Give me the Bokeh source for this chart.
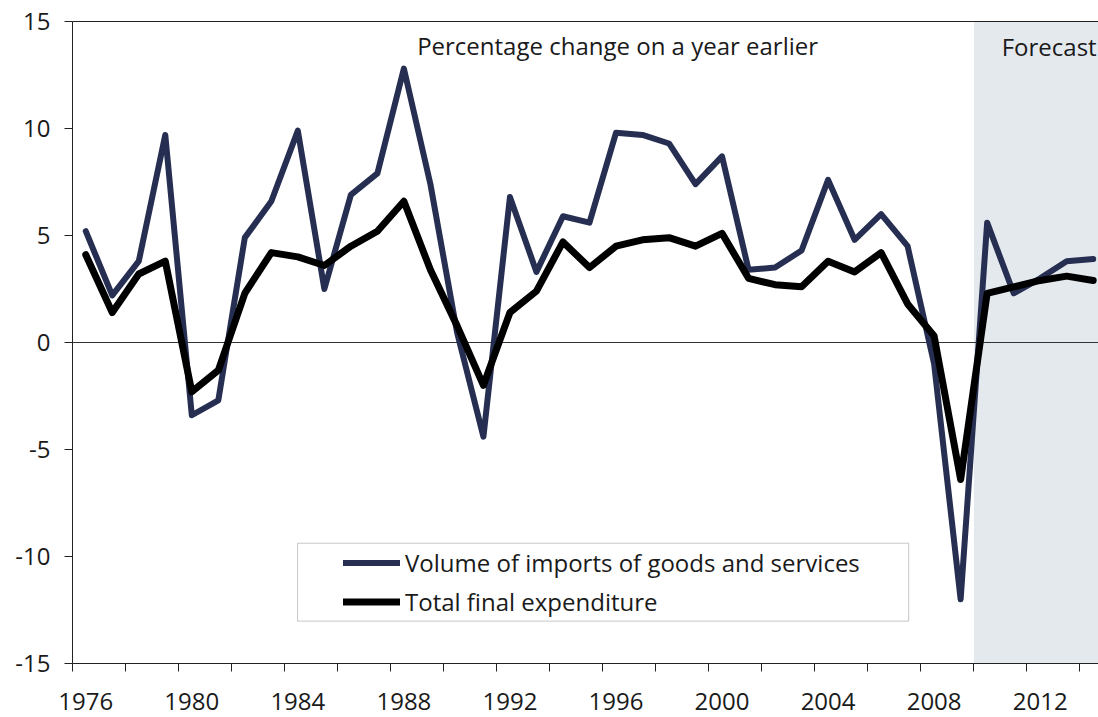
from bokeh.plotting import figure
from bokeh.models import (Range1d, FixedTicker, LinearAxis, Span, BoxAnnotation,
                          Label, Legend, LegendItem)
from bokeh.embed import file_html
from bokeh.resources import INLINE

years = list(range(1976, 2015))
imports = [5.2, 2.2, 3.8, 9.7, -3.4, -2.7, 4.9, 6.6, 9.9, 2.5,
           6.9, 7.9, 12.8, 7.4, 0.5, -4.4, 6.8, 3.3, 5.9, 5.6,
           9.8, 9.7, 9.3, 7.4, 8.7, 3.4, 3.5, 4.3, 7.6, 4.8,
           6.0, 4.5, -1.0, -12.0, 5.6, 2.3, 3.0, 3.8, 3.9]
tfe = [4.1, 1.4, 3.2, 3.8, -2.3, -1.3, 2.3, 4.2, 4.0, 3.6,
       4.5, 5.2, 6.6, 3.4, 0.8, -2.0, 1.4, 2.4, 4.7, 3.5,
       4.5, 4.8, 4.9, 4.5, 5.1, 3.0, 2.7, 2.6, 3.8, 3.3,
       4.2, 1.8, 0.3, -6.4, 2.3, 2.6, 2.9, 3.1, 2.9]
x_tick_years = [1976, 1980, 1984, 1988, 1992, 1996, 2000, 2004, 2008, 2012]
y_ticks = [-15, -10, -5, 0, 5, 10, 15]
y_tick_labels = ["-15", "-10", "-5", "0", "5", "10", "15"]
forecast_start = 2010
series_names = ["Volume of imports of goods and services", "Total final expenditure"]
title_text = "Percentage change on a year earlier"
forecast_text = "Forecast"

NAVY = "#262f52"
TXT = "#1a1a1a"
FONT = "Open Sans"
FS = "24px"

p = figure(width=1098, height=717, output_backend="svg", toolbar_location=None,
           x_range=Range1d(1975.5, 2014.2), y_range=Range1d(-15, 15),
           min_border_left=72, min_border_right=0, min_border_top=21, min_border_bottom=54,
           background_fill_color="white", border_fill_color="white")
p.outline_line_color = None
p.grid.visible = False

# x axis: labels at category centres, tick marks at category boundaries every 2 years
minor = [x_tick_years[0] - 0.5 + 2 * k for k in range(20)]
p.xaxis.ticker = FixedTicker(ticks=x_tick_years, minor_ticks=minor)
p.xaxis.major_tick_out = 0
p.xaxis.major_tick_in = 0
p.xaxis.minor_tick_out = 8
p.xaxis.minor_tick_in = 0
p.xaxis.major_label_standoff = 21
p.xaxis.major_label_text_font = FONT
p.xaxis.major_label_text_font_size = FS
p.xaxis.major_label_text_color = TXT
p.xaxis.axis_line_color = "#222222"
p.xaxis.minor_tick_line_color = "#222222"

p.yaxis.ticker = FixedTicker(ticks=y_ticks)
p.yaxis.major_label_overrides = dict(zip(y_ticks, y_tick_labels))
p.yaxis.major_tick_out = 8
p.yaxis.major_tick_in = 0
p.yaxis.minor_tick_out = 0
p.yaxis.minor_tick_in = 0
p.yaxis.major_label_standoff = 14
p.yaxis.major_label_text_font = FONT
p.yaxis.major_label_text_font_size = FS
p.yaxis.major_label_text_color = TXT
p.yaxis.axis_line_color = "#222222"
p.yaxis.major_tick_line_color = "#222222"

top = LinearAxis(ticker=FixedTicker(ticks=[]), major_tick_out=0, major_tick_in=0,
                 minor_tick_out=0, minor_tick_in=0, major_label_standoff=0,
                 axis_line_color="#222222")
p.add_layout(top, "above")

shade = BoxAnnotation(left=forecast_start - 0.5, fill_color="#e4e9ee", fill_alpha=1.0,
                      line_alpha=0, level="underlay")
p.add_layout(shade)
zero = Span(location=0, dimension="width", line_color="#333333", line_width=1, level="underlay")
p.add_layout(zero)

r1 = p.line(years, imports, line_color=NAVY, line_width=6, line_join="round", line_cap="round")
r2 = p.line(years, tfe, line_color="black", line_width=7, line_join="round", line_cap="round")

p.add_layout(Label(x=1988.5, y=13.88, text=title_text, text_font=FONT, text_font_size=FS,
                   text_color=TXT, text_baseline="alphabetic"))
p.add_layout(Label(x=2010.55, y=13.85, text=forecast_text, text_font=FONT, text_font_size=FS,
                   text_color=TXT, text_baseline="alphabetic"))

frame_box = BoxAnnotation(left=1983.99, right=2007.04, top=-9.38, bottom=-13.02,
                          fill_color="white", fill_alpha=1.0, line_color="#444444",
                          line_width=1)
p.add_layout(frame_box)

legend = Legend(items=[LegendItem(label=series_names[0], renderers=[r1]),
                       LegendItem(label=series_names[1], renderers=[r2])],
                location=(271, 45), orientation="vertical",
                border_line_alpha=0, background_fill_alpha=0, padding=0, margin=0,
                spacing=6, glyph_width=57, glyph_height=33, label_height=33,
                label_standoff=5, label_text_font=FONT, label_text_font_size=FS,
                label_text_color=TXT)
p.add_layout(legend)

open("out.html", "w").write(file_html(p, INLINE))
